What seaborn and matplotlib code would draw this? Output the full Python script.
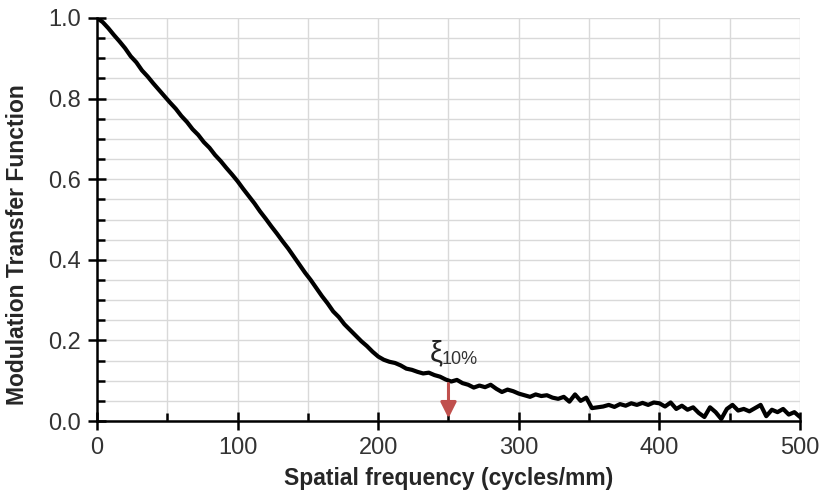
import numpy as np
import pandas as pd
import matplotlib
matplotlib.use('Agg')
import matplotlib.pyplot as plt
import seaborn as sns
from matplotlib.ticker import MultipleLocator

# spatial frequency grid (cycles/mm), sampled every 4
freq = np.arange(0, 501, 4)
mtf = [1.000, 0.990, 0.975, 0.958, 0.942, 0.925, 0.905, 0.890, 0.870, 0.855,
       0.838, 0.822, 0.806, 0.790, 0.775, 0.757, 0.742, 0.724, 0.710, 0.692,
       0.678, 0.660, 0.645, 0.628, 0.612, 0.595, 0.576, 0.558, 0.540, 0.520,
       0.502, 0.483, 0.465, 0.446, 0.428, 0.408, 0.388, 0.368, 0.350, 0.330,
       0.310, 0.292, 0.272, 0.258, 0.240, 0.226, 0.212, 0.198, 0.186, 0.172,
       0.160, 0.152, 0.147, 0.144, 0.138, 0.130, 0.127, 0.122, 0.118, 0.120,
       0.114, 0.110, 0.103, 0.098, 0.102, 0.094, 0.090, 0.083, 0.088, 0.084,
       0.090, 0.080, 0.072, 0.078, 0.074, 0.068, 0.064, 0.060, 0.066, 0.062,
       0.064, 0.058, 0.055, 0.060, 0.048, 0.066, 0.050, 0.058, 0.032, 0.034,
       0.036, 0.040, 0.035, 0.042, 0.038, 0.044, 0.040, 0.045, 0.040, 0.046,
       0.044, 0.036, 0.046, 0.030, 0.038, 0.028, 0.034, 0.020, 0.010, 0.034,
       0.022, 0.005, 0.030, 0.040, 0.026, 0.030, 0.024, 0.032, 0.040, 0.012,
       0.028, 0.022, 0.030, 0.016, 0.022, 0.010]

xi_freq = 250
xi_mtf = 0.10

df = pd.DataFrame({'freq': freq, 'mtf': mtf})

sns.set_style('white')
plt.rcParams['font.family'] = ['Liberation Sans', 'DejaVu Sans']

fig = plt.figure(figsize=(8.19, 4.93), dpi=100)
ax = fig.add_axes([0.1184, 0.146, 0.8584, 0.8175])

sns.lineplot(data=df, x='freq', y='mtf', color='black', linewidth=3.0, ax=ax, zorder=3)

ax.set_xlim(0, 500)
ax.set_ylim(0, 1.0)
ax.xaxis.set_major_locator(MultipleLocator(100))
ax.xaxis.set_minor_locator(MultipleLocator(50))
ax.yaxis.set_major_locator(MultipleLocator(0.2))
ax.yaxis.set_minor_locator(MultipleLocator(0.05))
ax.yaxis.set_major_formatter(plt.FormatStrFormatter('%.1f'))

ax.grid(True, which='both', color='#d9d9d9', linewidth=1.0, zorder=0)
ax.set_axisbelow(True)

for s in ['top', 'right']:
    ax.spines[s].set_visible(False)
for s in ['left', 'bottom']:
    ax.spines[s].set_linewidth(1.8)
    ax.spines[s].set_color('black')

ax.tick_params(which='both', bottom=True, left=True, top=False, right=False, color='black')
ax.tick_params(which='major', direction='inout', length=13, width=1.8, labelsize=17,
               labelcolor='#333333', pad=5)
ax.tick_params(which='minor', direction='in', length=6, width=1.8)

ax.set_xlabel('Spatial frequency (cycles/mm)', fontsize=16.5, fontweight='bold', labelpad=6)
ax.set_ylabel('Modulation Transfer Function', fontsize=16.5, fontweight='bold')
ax.yaxis.set_label_coords(-0.096, 0.437)

ax.annotate('', xy=(xi_freq, 0.0), xytext=(xi_freq, xi_mtf),
            arrowprops=dict(arrowstyle='-|>', color='#c0504d', lw=2.2, mutation_scale=24),
            zorder=4)
ax.text(237, 0.168, 'ξ', fontsize=21, ha='left', va='center', color='#222222')
ax.text(245, 0.152, '10%', fontsize=13, ha='left', va='center', color='#333333')

fig.savefig('out.png', dpi=100)
